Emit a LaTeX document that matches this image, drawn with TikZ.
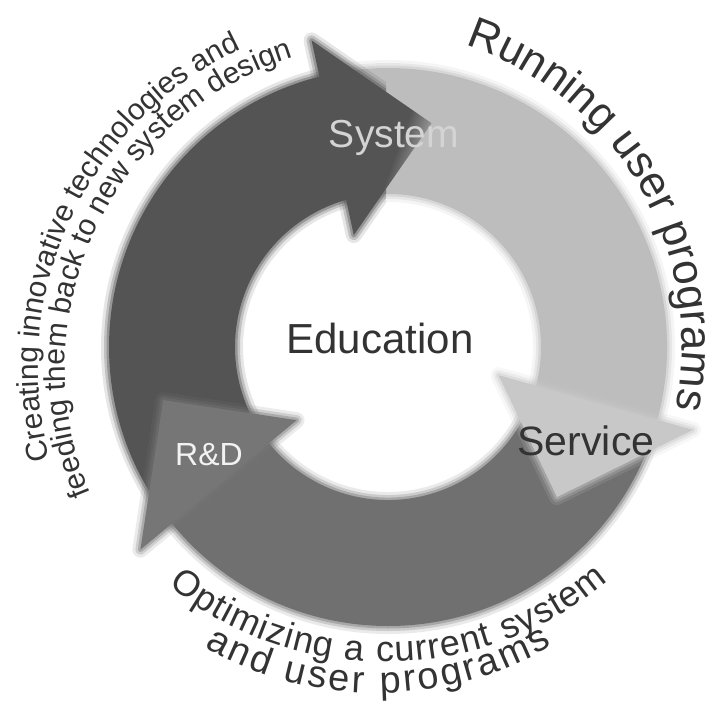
\documentclass[tikz,border=0pt]{standalone}
\usepackage{fontspec}
\setmainfont{Liberation Sans}
\usetikzlibrary{decorations.text}
\definecolor{cDark}{HTML}{545454}
\definecolor{cMed}{HTML}{707070}
\definecolor{cLight}{HTML}{BDBDBD}
\definecolor{cLightHead}{HTML}{C8C8C8}
\definecolor{cMedHead}{HTML}{767676}
\definecolor{cFade}{HTML}{B8B8B8}
\definecolor{cTxt}{HTML}{333333}
\definecolor{cSys}{HTML}{D4D4D4}
\definecolor{cRD}{HTML}{F2F2F2}
\pgfdeclarehorizontalshading{darkheadshade}{100bp}{color(0bp)=(cDark); color(25bp)=(cDark); color(60bp)=(cDark); color(73bp)=(cFade); color(100bp)=(cFade)}
\newcommand\softfill[2]{%
  \path[draw=#1, line width=16pt, draw opacity=.15, line join=round] #2;
  \path[draw=#1, line width=10pt, draw opacity=.25, line join=round] #2;
  \path[draw=#1, line width=5pt, draw opacity=.4, line join=round] #2;
  \path[fill=#1] #2;}
\tikzset{
  centerlbl/.style={inner sep=0pt, text=cTxt, font=\fontsize{42pt}{50pt}\selectfont},
  systemlbl/.style={inner sep=0pt, text=cSys, font=\fontsize{39pt}{46pt}\selectfont},
  servicelbl/.style={inner sep=0pt, text=cTxt, font=\fontsize{41pt}{48pt}\selectfont},
  rdlbl/.style={inner sep=0pt, text=cRD, font=\fontsize{32pt}{38pt}\selectfont},
}
\begin{document}
\begin{tikzpicture}[x=1pt,y=1pt]
\useasboundingbox (-388,-356) rectangle (331,347);
% bands
\softfill{cDark}{(214:153) arc[start angle=214,end angle=103.5,radius=153] -- (103.5:279) arc[start angle=103.5,end angle=214,radius=279] -- cycle}
\softfill{cLight}{(100:153) arc[start angle=100,end angle=-16.5,radius=153] -- (-16.5:279) arc[start angle=-16.5,end angle=100,radius=279] -- cycle}
\softfill{cMed}{(-20:153) arc[start angle=-20,end angle=-142.5,radius=153] -- (-142.5:279) arc[start angle=-142.5,end angle=-20,radius=279] -- cycle}
% heads
\softfill{cLightHead}{(-15.2:316) -- (-41.6:226) -- (-14.3:114) -- cycle}
\softfill{cMedHead}{(219.3:320) -- (193.3:231) -- (218.7:117) -- cycle}
\begin{scope}
  \clip (-400,0) rectangle (-2,400);
  \path[draw=cDark, line width=16pt, draw opacity=.15, line join=round] (104:316) -- (79:228) -- (107:117) -- cycle;
  \path[draw=cDark, line width=10pt, draw opacity=.25, line join=round] (104:316) -- (79:228) -- (107:117) -- cycle;
  \path[draw=cDark, line width=5pt, draw opacity=.4, line join=round] (104:316) -- (79:228) -- (107:117) -- cycle;
\end{scope}
\shade[shading=darkheadshade, shading angle=-20] (104:316) -- (79:228) -- (107:117) -- cycle;
% labels
\node[centerlbl] (edu) at (-8,9) {Education};
\node[systemlbl] (sys) at (6,209) {System};
\node[servicelbl] (srv) at (198,-94) {Service};
\node[rdlbl] (rd) at (-179,-108) {R\&D};
% curved texts
\path[decorate, decoration={text along path, text align=center, text={|\fontsize{44pt}{52pt}\selectfont\color{cTxt}|Running user programs}}]
  (-22,2) ++(80:316) arc[start angle=80, end angle=-20, radius=316];
\path[decorate, decoration={text along path, text align=center, text={|\fontsize{30pt}{36pt}\selectfont\color{cTxt}|Creating innovative technologies and}}]
  (2,-21) ++(210:352) arc[start angle=210, end angle=100, radius=352];
\path[decorate, decoration={text along path, text align=center, text={|\fontsize{30pt}{36pt}\selectfont\color{cTxt}|feeding them back to new system design}}]
  (2,-21) ++(210:325) arc[start angle=210, end angle=100, radius=325];
\path[decorate, decoration={text along path, text align={fit to path}, text={|\fontsize{36pt}{44pt}\selectfont\color{cTxt}|Optimizing a current system}}]
  (-3,31) ++(231.2:346) arc[start angle=231.2, end angle=310.1, radius=346];
\path[decorate, decoration={text along path, text align={fit to path}, text={|\fontsize{38pt}{46pt}\selectfont\color{cTxt}|and user programs}}]
  (-11.5,4) ++(240.5:350) arc[start angle=240.5, end angle=300.1, radius=350];
\end{tikzpicture}
\end{document}
